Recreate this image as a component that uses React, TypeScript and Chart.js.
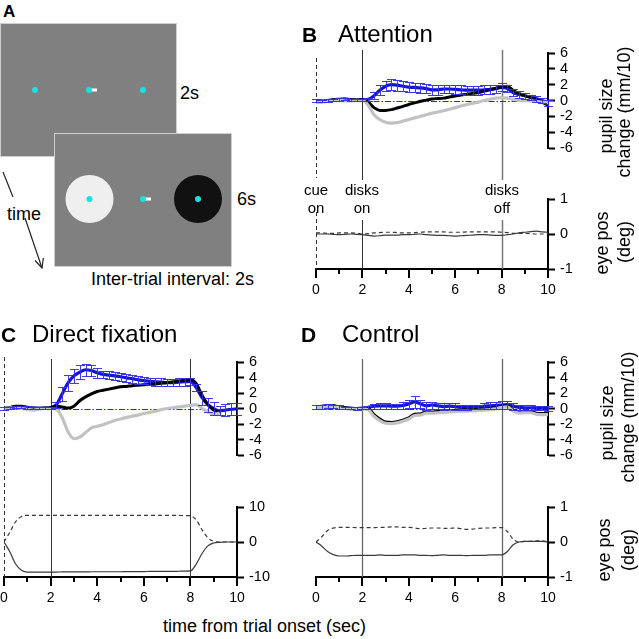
import React, { useEffect, useRef } from 'react';
import { Chart, registerables } from 'chart.js';

Chart.register(...registerables);

const FONT = "'Liberation Sans', Arial, Helvetica, sans-serif";

// ---------- data ----------
const TIME = [0, 0.25, 0.5, 0.75, 1, 1.25, 1.5, 1.75, 2, 2.25, 2.5, 2.75, 3, 3.25, 3.5, 3.75, 4, 4.25, 4.5, 4.75, 5, 5.25, 5.5, 5.75, 6, 6.25, 6.5, 6.75, 7, 7.25, 7.5, 7.75, 8, 8.25, 8.5, 8.75, 9, 9.25, 9.5, 9.75, 10];

const X_TICK_LABELS = [0, 2, 4, 6, 8, 10];
const PUPIL_RANGE = [-6, 6];
const PUPIL_STEP = 2;
const EYE_RANGE_SMALL = [-1, 1];
const EYE_RANGE_LARGE = [-10, 10];

// Panel B: Attention (pupil change, mm/10)
const B_BLUE = [0.0, -0.05, 0.0, 0.1, 0.15, 0.2, 0.1, 0.05, 0.1, 0.15, 0.6, 1.3, 1.8, 2.0, 1.95, 1.8, 1.7, 1.65, 1.6, 1.5, 1.35, 1.35, 1.45, 1.45, 1.4, 1.35, 1.3, 1.3, 1.3, 1.35, 1.4, 1.5, 1.65, 1.5, 1.0, 0.75, 0.6, 0.4, 0.2, 0.0, -0.3];
const B_BLUE_ERR = [0.15, 0.15, 0.15, 0.15, 0.15, 0.15, 0.15, 0.15, 0.15, 0.2, 0.45, 0.6, 0.65, 0.7, 0.7, 0.65, 0.6, 0.6, 0.6, 0.6, 0.6, 0.6, 0.55, 0.55, 0.55, 0.55, 0.55, 0.55, 0.55, 0.55, 0.55, 0.5, 0.5, 0.45, 0.4, 0.4, 0.4, 0.35, 0.35, 0.35, 0.35];
const B_BLACK = [-0.2, -0.15, -0.05, 0.05, 0.1, 0.1, 0.05, 0.05, 0.05, -0.2, -0.9, -1.25, -1.25, -1.15, -0.95, -0.75, -0.5, -0.3, -0.1, 0.05, 0.2, 0.25, 0.3, 0.45, 0.55, 0.7, 0.8, 0.9, 1.0, 1.2, 1.35, 1.55, 1.7, 1.8, 1.3, 0.9, 0.6, 0.4, 0.2, -0.2, -0.6];
const B_GRAY = [-0.25, -0.2, -0.1, 0.0, 0.0, -0.05, -0.05, 0.0, 0.0, -0.6, -1.8, -2.4, -2.75, -2.85, -2.8, -2.6, -2.4, -2.2, -2.0, -1.8, -1.6, -1.45, -1.3, -1.1, -0.9, -0.7, -0.5, -0.35, -0.2, 0.0, 0.15, 0.3, 0.35, 0.3, 0.15, 0.05, 0.0, -0.05, -0.1, -0.2, -0.3];
const B_EYE_SOLID = [0.0, 0.0, 0.0, -0.01, -0.02, -0.01, 0.0, -0.01, -0.02, -0.04, -0.06, -0.05, -0.03, -0.03, -0.03, -0.02, -0.02, -0.01, 0.0, -0.02, -0.03, -0.04, -0.04, -0.05, -0.06, -0.05, -0.04, -0.03, -0.02, -0.02, -0.03, -0.04, -0.04, -0.02, 0.0, 0.03, 0.05, 0.07, 0.08, 0.06, 0.05];
const B_EYE_DASH = [0.03, 0.03, 0.02, 0.02, 0.03, 0.03, 0.03, 0.02, 0.0, 0.01, 0.03, 0.04, 0.05, 0.05, 0.04, 0.03, 0.03, 0.04, 0.05, 0.06, 0.06, 0.06, 0.06, 0.05, 0.05, 0.05, 0.06, 0.06, 0.06, 0.06, 0.06, 0.06, 0.05, 0.04, 0.02, 0.02, 0.02, 0.01, 0.0, 0.0, 0.0];

// Panel C: Direct fixation
const C_BLUE = [0.0, 0.1, 0.2, 0.2, 0.15, 0.1, 0.05, 0.05, 0.1, 0.5, 1.9, 3.3, 4.2, 4.7, 5.0, 4.9, 4.6, 4.4, 4.3, 4.2, 4.1, 3.95, 3.85, 3.7, 3.6, 3.5, 3.45, 3.4, 3.35, 3.35, 3.4, 3.45, 3.5, 2.7, 1.4, 0.5, 0.0, -0.3, -0.2, -0.1, -0.05];
const C_BLUE_ERR = [0.15, 0.15, 0.15, 0.15, 0.15, 0.15, 0.15, 0.15, 0.15, 0.4, 0.9, 1.0, 0.9, 0.9, 0.8, 0.7, 0.6, 0.5, 0.5, 0.5, 0.5, 0.5, 0.5, 0.5, 0.5, 0.5, 0.5, 0.5, 0.5, 0.5, 0.5, 0.5, 0.5, 0.5, 0.9, 0.9, 0.8, 0.6, 0.8, 0.8, 0.8];
const C_BLACK = [0.0, 0.1, 0.3, 0.3, 0.1, 0.0, 0.0, 0.05, 0.1, 0.3, 0.2, 0.05, 0.3, 1.0, 1.5, 1.9, 2.2, 2.35, 2.5, 2.65, 2.8, 2.85, 2.95, 3.0, 3.05, 3.1, 3.15, 3.25, 3.35, 3.45, 3.55, 3.65, 3.7, 3.2, 1.7, 0.5, -0.2, -0.55, null, null, null];
const C_GRAY = [0.0, 0.05, 0.1, 0.0, -0.1, -0.2, -0.1, 0.0, 0.0, -0.1, -1.2, -3.0, -3.9, -3.7, -3.1, -2.5, -2.3, -2.1, -1.8, -1.55, -1.35, -1.15, -1.0, -0.85, -0.65, -0.5, -0.35, -0.15, 0.0, 0.1, 0.2, 0.3, 0.4, 0.5, 0.0, -0.45, -0.75, -0.6, null, null, null];
const C_EYE_DASH = [0.0, 2.8, 5.8, 7.3, 7.6, 7.6, 7.6, 7.6, 7.6, 7.6, 7.6, 7.6, 7.6, 7.6, 7.6, 7.6, 7.6, 7.6, 7.6, 7.6, 7.6, 7.6, 7.6, 7.6, 7.6, 7.6, 7.6, 7.6, 7.6, 7.6, 7.6, 7.55, 7.5, 6.3, 3.5, 1.2, 0.2, 0.0, 0.0, 0.0, 0.0];
const C_EYE_SOLID = [0.0, -2.8, -6.3, -8.1, -8.6, -8.6, -8.6, -8.6, -8.6, -8.6, -8.55, -8.55, -8.55, -8.55, -8.55, -8.5, -8.5, -8.5, -8.5, -8.5, -8.5, -8.45, -8.45, -8.45, -8.45, -8.4, -8.4, -8.4, -8.4, -8.4, -8.35, -8.3, -8.25, -6.3, -3.3, -1.1, -0.3, -0.1, 0.0, 0.0, 0.0];

// Panel D: Control
const D_BLUE = [0.2, 0.25, 0.3, 0.3, 0.2, 0.1, 0.05, 0.0, 0.05, 0.15, 0.3, 0.35, 0.35, 0.3, 0.3, 0.4, 0.6, 0.85, 0.6, 0.35, 0.45, 0.35, 0.25, 0.3, 0.25, 0.15, 0.15, 0.2, 0.2, 0.3, 0.35, 0.4, 0.45, 0.5, 0.3, 0.15, 0.1, 0.1, 0.05, 0.05, 0.0];
const D_BLUE_ERR = [0.3, 0.25, 0.25, 0.2, 0.2, 0.15, 0.15, 0.15, 0.15, 0.2, 0.3, 0.35, 0.35, 0.3, 0.3, 0.4, 0.5, 0.75, 0.5, 0.5, 0.45, 0.4, 0.4, 0.4, 0.4, 0.35, 0.3, 0.3, 0.3, 0.4, 0.45, 0.5, 0.55, 0.5, 0.45, 0.35, 0.35, 0.3, 0.3, 0.3, 0.3];
const D_BLACK = [0.2, 0.3, 0.4, 0.35, 0.2, 0.1, 0.0, 0.0, 0.0, 0.0, -0.8, -1.35, -1.75, -1.8, -1.7, -1.5, -1.2, -0.75, -0.7, -0.45, -0.45, -0.4, -0.4, -0.3, -0.25, -0.2, -0.2, -0.15, -0.1, -0.05, 0.0, 0.1, 0.3, 0.35, -0.2, -0.45, -0.4, -0.4, -0.6, -0.65, -0.65];
const D_GRAY = [0.1, 0.2, 0.3, 0.25, 0.1, 0.0, -0.1, -0.05, -0.05, -0.15, -1.0, -1.55, -1.9, -1.95, -1.85, -1.65, -1.35, -0.9, -0.85, -0.6, -0.6, -0.55, -0.5, -0.45, -0.4, -0.35, -0.35, -0.3, -0.25, -0.2, -0.15, -0.05, 0.15, 0.2, -0.35, -0.6, -0.55, -0.55, -0.75, -0.8, -0.8];
const D_EYE_DASH = [0.0, 0.15, 0.33, 0.4, 0.42, 0.42, 0.42, 0.41, 0.41, 0.41, 0.41, 0.42, 0.42, 0.43, 0.43, 0.42, 0.42, 0.4, 0.38, 0.39, 0.4, 0.4, 0.39, 0.39, 0.4, 0.38, 0.36, 0.37, 0.39, 0.4, 0.4, 0.41, 0.41, 0.3, 0.08, 0.0, 0.02, 0.02, 0.03, 0.03, 0.0];
const D_EYE_SOLID = [0.0, -0.12, -0.27, -0.36, -0.4, -0.4, -0.39, -0.38, -0.38, -0.38, -0.38, -0.37, -0.38, -0.38, -0.38, -0.37, -0.37, -0.37, -0.38, -0.38, -0.39, -0.38, -0.37, -0.38, -0.38, -0.38, -0.39, -0.38, -0.38, -0.38, -0.37, -0.37, -0.37, -0.27, -0.08, 0.0, 0.02, 0.02, 0.02, 0.02, 0.0];

// ---------- styles ----------
const BLUE = '#1414d6';
const ERR_BLUE = 'rgba(50,50,230,0.95)';
const BLACK = '#000000';
const GRAY = '#c2c2c2';
const EYE = '#3a3a3a';

const AXIS_W = 48;
const XAXIS_H = 32;
const PAD_L = 12;
const PAD_R = 4;

type VLine = { x: number; from: number; to: number; color: string; width: number; dash?: number[] };
type Series = { values: (number | null)[]; color: string; width: number; dash?: number[] };
type Spec = {
  area: { left: number; right: number; top: number; bottom: number };
  canvasTop: number;
  canvasBottom: number;
  yRange: number[];
  yStep: number;
  showX: boolean;
  series: Series[];
  errors?: { values: number[]; err: number[] };
  zeroLine?: boolean;
  vlines: VLine[];
};

function MiniChart({ spec }: { spec: Spec }) {
  const ref = useRef<HTMLCanvasElement>(null);
  const left = spec.area.left - PAD_L;
  const width = PAD_L + (spec.area.right - spec.area.left) + AXIS_W + PAD_R;
  const height = spec.canvasBottom - spec.canvasTop;

  useEffect(() => {
    const padTop = spec.area.top - spec.canvasTop;
    const padBottom = spec.canvasBottom - spec.area.bottom - (spec.showX ? XAXIS_H : 0);
    const overlay = {
      id: 'overlay',
      beforeDatasetsDraw(chart: any) {
        const ctx = chart.ctx;
        const xs = chart.scales.x;
        const ys = chart.scales.y;
        ctx.save();
        for (const v of spec.vlines) {
          const px = Math.round(xs.getPixelForValue(v.x)) + 0.5;
          ctx.strokeStyle = v.color;
          ctx.lineWidth = v.width;
          ctx.setLineDash(v.dash || []);
          ctx.beginPath();
          ctx.moveTo(px, v.from - spec.canvasTop);
          ctx.lineTo(px, v.to - spec.canvasTop);
          ctx.stroke();
        }
        if (spec.zeroLine) {
          const py = Math.round(ys.getPixelForValue(0)) + 0.5;
          ctx.strokeStyle = '#2626ee';
          ctx.lineWidth = 1.2;
          ctx.setLineDash([6, 2, 1.5, 2]);
          ctx.beginPath();
          ctx.moveTo(xs.getPixelForValue(0), py);
          ctx.lineTo(xs.getPixelForValue(10), py);
          ctx.stroke();
        }
        ctx.restore();
      },
      afterDatasetsDraw(chart: any) {
        if (!spec.errors) return;
        const ctx = chart.ctx;
        const xs = chart.scales.x;
        const ys = chart.scales.y;
        ctx.save();
        ctx.strokeStyle = ERR_BLUE;
        ctx.lineWidth = 1;
        spec.errors.values.forEach((v, i) => {
          const e = spec.errors!.err[i];
          const px = Math.round(xs.getPixelForValue(TIME[i])) + 0.5;
          const y1 = Math.round(ys.getPixelForValue(v + e)) + 0.5;
          const y2 = Math.round(ys.getPixelForValue(v - e)) + 0.5;
          ctx.beginPath();
          ctx.moveTo(px, y1);
          ctx.lineTo(px, y2);
          ctx.moveTo(px - 4.5, y1);
          ctx.lineTo(px + 4.5, y1);
          ctx.moveTo(px - 4.5, y2);
          ctx.lineTo(px + 4.5, y2);
          ctx.stroke();
        });
        ctx.restore();
      },
      afterDraw(chart: any) {
        if (!spec.showX) return;
        const ctx = chart.ctx;
        const xs = chart.scales.x;
        ctx.save();
        ctx.strokeStyle = '#000';
        ctx.lineWidth = 2;
        for (const t of xs.ticks) {
          const px = Math.round(xs.getPixelForValue(t.value));
          const len = X_TICK_LABELS.includes(t.value) ? 9 : 5;
          ctx.beginPath();
          ctx.moveTo(px, xs.top);
          ctx.lineTo(px, xs.top + len);
          ctx.stroke();
        }
        ctx.restore();
      },
    };

    const chart = new Chart(ref.current as HTMLCanvasElement, {
      type: 'line',
      data: {
        datasets: spec.series.map((s) => ({
          data: TIME.map((t, i) => ({ x: t, y: s.values[i] })),
          borderColor: s.color,
          borderWidth: s.width,
          borderDash: s.dash || [],
          pointRadius: 0,
          cubicInterpolationMode: 'monotone',
          fill: false,
          spanGaps: false,
        })) as any,
      },
      options: {
        responsive: false,
        animation: false,
        devicePixelRatio: 1,
        events: [],
        layout: { padding: { left: PAD_L, right: PAD_R, top: padTop, bottom: padBottom } },
        plugins: { legend: { display: false }, tooltip: { enabled: false } },
        scales: {
          x: {
            type: 'linear',
            min: 0,
            max: 10,
            display: spec.showX,
            position: 'bottom',
            afterFit: (s: any) => {
              s.height = XAXIS_H;
              s.paddingLeft = 0;
              s.paddingRight = 0;
            },
            border: { display: true, color: '#000', width: 2 },
            grid: { drawOnChartArea: false, drawTicks: false },
            ticks: {
              stepSize: 1,
              autoSkip: false,
              maxRotation: 0,
              padding: 14,
              color: '#000',
              font: { family: FONT, size: 14, lineHeight: 1 },
              callback: (v: any) => (X_TICK_LABELS.includes(Number(v)) ? String(v) : ''),
            },
          },
          y: {
            type: 'linear',
            position: 'right',
            min: spec.yRange[0],
            max: spec.yRange[1],
            afterFit: (s: any) => {
              s.width = AXIS_W;
              s.paddingTop = 0;
              s.paddingBottom = 0;
            },
            border: { display: true, color: '#000', width: 2 },
            grid: { drawOnChartArea: false, drawTicks: true, tickLength: 7, tickWidth: 2, tickColor: '#000' },
            ticks: {
              stepSize: spec.yStep,
              autoSkip: false,
              padding: 5,
              color: '#000',
              font: { family: FONT, size: 14.5, lineHeight: 1 },
            },
          },
        } as any,
      },
      plugins: [overlay],
    });
    return () => chart.destroy();
  }, []);

  return (
    <canvas
      ref={ref}
      width={width}
      height={height}
      style={{ position: 'absolute', left, top: spec.canvasTop, width, height }}
    />
  );
}

function pupilSeries(gray: (number | null)[], black: (number | null)[], blue: number[]): Series[] {
  return [
    { values: gray, color: GRAY, width: 3.2 },
    { values: black, color: BLACK, width: 3 },
    { values: blue, color: BLUE, width: 3.2 },
  ];
}
function eyeSeries(solid: number[], dash: number[]): Series[] {
  return [
    { values: solid, color: EYE, width: 1.2 },
    { values: dash, color: EYE, width: 1.2, dash: [4, 3] },
  ];
}

const DASH0 = [4, 3];

const SPECS: Spec[] = [
  // B top
  {
    area: { left: 316, right: 548, top: 53, bottom: 180 },
    canvasTop: 36,
    canvasBottom: 196,
    yRange: PUPIL_RANGE,
    yStep: PUPIL_STEP,
    showX: false,
    series: pupilSeries(B_GRAY, B_BLACK, B_BLUE),
    errors: { values: B_BLUE, err: B_BLUE_ERR },
    zeroLine: true,
    vlines: [
      { x: 0, from: 58, to: 178, color: '#333', width: 1, dash: DASH0 },
      { x: 2, from: 50, to: 180, color: '#333', width: 1 },
      { x: 8, from: 50, to: 180, color: '#777', width: 1.5 },
    ],
  },
  // B bottom
  {
    area: { left: 316, right: 548, top: 199, bottom: 269 },
    canvasTop: 184,
    canvasBottom: 269 + XAXIS_H + 5,
    yRange: EYE_RANGE_SMALL,
    yStep: 1,
    showX: true,
    series: eyeSeries(B_EYE_SOLID, B_EYE_DASH),
    vlines: [
      { x: 0, from: 212, to: 269, color: '#333', width: 1, dash: DASH0 },
      { x: 2, from: 220, to: 269, color: '#333', width: 1 },
      { x: 8, from: 220, to: 269, color: '#777', width: 1.5 },
    ],
  },
  // C top
  {
    area: { left: 4, right: 237, top: 362, bottom: 487 },
    canvasTop: 345,
    canvasBottom: 503,
    yRange: PUPIL_RANGE,
    yStep: PUPIL_STEP,
    showX: false,
    series: pupilSeries(C_GRAY, C_BLACK, C_BLUE),
    errors: { values: C_BLUE, err: C_BLUE_ERR },
    zeroLine: true,
    vlines: [
      { x: 0, from: 357, to: 497, color: '#333', width: 1, dash: DASH0 },
      { x: 2, from: 359, to: 497, color: '#333', width: 1 },
      { x: 8, from: 359, to: 497, color: '#333', width: 1 },
    ],
  },
  // C bottom
  {
    area: { left: 4, right: 237, top: 507, bottom: 577 },
    canvasTop: 491,
    canvasBottom: 577 + XAXIS_H + 5,
    yRange: EYE_RANGE_LARGE,
    yStep: 10,
    showX: true,
    series: eyeSeries(C_EYE_SOLID, C_EYE_DASH),
    vlines: [
      { x: 0, from: 497, to: 577, color: '#333', width: 1, dash: DASH0 },
      { x: 2, from: 497, to: 577, color: '#333', width: 1 },
      { x: 8, from: 497, to: 577, color: '#333', width: 1 },
    ],
  },
  // D top
  {
    area: { left: 316, right: 548, top: 362, bottom: 487 },
    canvasTop: 345,
    canvasBottom: 503,
    yRange: PUPIL_RANGE,
    yStep: PUPIL_STEP,
    showX: false,
    series: pupilSeries(D_GRAY, D_BLACK, D_BLUE),
    errors: { values: D_BLUE, err: D_BLUE_ERR },
    zeroLine: true,
    vlines: [
      { x: 2, from: 359, to: 497, color: '#666', width: 1.3 },
      { x: 8, from: 359, to: 497, color: '#666', width: 1.3 },
    ],
  },
  // D bottom
  {
    area: { left: 316, right: 548, top: 507, bottom: 577 },
    canvasTop: 491,
    canvasBottom: 577 + XAXIS_H + 5,
    yRange: EYE_RANGE_SMALL,
    yStep: 1,
    showX: true,
    series: eyeSeries(D_EYE_SOLID, D_EYE_DASH),
    vlines: [
      { x: 2, from: 497, to: 577, color: '#666', width: 1.3 },
      { x: 8, from: 497, to: 577, color: '#666', width: 1.3 },
    ],
  },
];

// ---------- text helpers ----------
function Txt({ x, base, size, bold, children }: { x: number; base: number; size: number; bold?: boolean; children: any }) {
  return (
    <div
      style={{
        position: 'absolute',
        left: x,
        top: base - 0.85 * size,
        fontSize: size,
        lineHeight: `${size}px`,
        fontWeight: bold ? 'bold' : 'normal',
        fontFamily: FONT,
        whiteSpace: 'nowrap',
        color: '#000',
      }}
    >
      {children}
    </div>
  );
}
function CTxt({ cx, cy, size, rotate, children }: { cx: number; cy: number; size: number; rotate?: boolean; children: any }) {
  return (
    <div
      style={{
        position: 'absolute',
        left: cx,
        top: cy,
        transform: `translate(-50%, -50%)${rotate ? ' rotate(-90deg)' : ''}`,
        fontSize: size,
        lineHeight: `${size}px`,
        fontFamily: FONT,
        whiteSpace: 'nowrap',
        color: '#000',
      }}
    >
      {children}
    </div>
  );
}

const CYAN = '#17e2e2';

function PanelA() {
  return (
    <svg width={260} height={290} style={{ position: 'absolute', left: 0, top: 0 }}>
      <rect x={0.5} y={23.5} width={176} height={133} fill="#808080" stroke="#cfcfcf" strokeWidth={1} />
      <rect x={90} y={88.5} width={7} height={3} fill="#ffffff" />
      <circle cx={35} cy={90} r={3} fill={CYAN} />
      <circle cx={89} cy={90} r={3} fill={CYAN} />
      <circle cx={143} cy={90} r={3} fill={CYAN} />
      <rect x={54.5} y={133.5} width={177} height={133} fill="#808080" stroke="#cfcfcf" strokeWidth={1} />
      <circle cx={89.5} cy={199} r={24} fill="#efefef" />
      <circle cx={198} cy={199} r={24} fill="#111111" />
      <rect x={144} y={197.5} width={7} height={3} fill="#ffffff" />
      <circle cx={89.5} cy={199} r={3} fill={CYAN} />
      <circle cx={143} cy={199} r={3} fill={CYAN} />
      <circle cx={198} cy={199} r={3} fill={CYAN} />
      <line x1={3} y1={172} x2={13} y2={197} stroke="#222" strokeWidth={1.2} />
      <line x1={25} y1={218} x2={42} y2={268} stroke="#222" strokeWidth={1.2} />
      <polyline points="35,260.5 42,268 43.3,258" fill="none" stroke="#222" strokeWidth={1.2} />
    </svg>
  );
}

export default function App() {
  return (
    <div
      style={{
        position: 'absolute',
        left: 0,
        top: 0,
        width: 639,
        height: 639,
        overflow: 'hidden',
        background: '#ffffff',
        fontFamily: FONT,
      }}
    >
      <PanelA />
      <Txt x={3} base={17} size={17} bold>A</Txt>
      <Txt x={180} base={99} size={18}>2s</Txt>
      <Txt x={237} base={205} size={18}>6s</Txt>
      <Txt x={7} base={220} size={18}>time</Txt>
      <Txt x={91} base={285} size={18}>Inter-trial interval: 2s</Txt>

      {SPECS.map((s, i) => (
        <MiniChart key={i} spec={s} />
      ))}

      {/* Titles */}
      <Txt x={302} base={42} size={21} bold>B</Txt>
      <Txt x={338} base={42} size={24}>Attention</Txt>
      <Txt x={1} base={342} size={21} bold>C</Txt>
      <Txt x={32} base={342} size={24}>Direct fixation</Txt>
      <Txt x={301} base={342} size={21} bold>D</Txt>
      <Txt x={342} base={342} size={24}>Control</Txt>

      {/* Event labels in B */}
      <CTxt cx={316} cy={188.5} size={15}>cue</CTxt>
      <CTxt cx={316} cy={207} size={15}>on</CTxt>
      <CTxt cx={362} cy={188.5} size={15}>disks</CTxt>
      <CTxt cx={362} cy={207} size={15}>on</CTxt>
      <CTxt cx={502} cy={188.5} size={15}>disks</CTxt>
      <CTxt cx={502} cy={207} size={15}>off</CTxt>

      {/* Axis titles */}
      <CTxt cx={606} cy={116} size={18} rotate>pupil size</CTxt>
      <CTxt cx={624} cy={112} size={18} rotate>change (mm/10)</CTxt>
      <CTxt cx={602} cy={243} size={18} rotate>eye pos</CTxt>
      <CTxt cx={623.5} cy={242} size={18} rotate>(deg)</CTxt>
      <CTxt cx={607} cy={423} size={18} rotate>pupil size</CTxt>
      <CTxt cx={628} cy={417} size={18} rotate>change (mm/10)</CTxt>
      <CTxt cx={604} cy={550} size={18} rotate>eye pos</CTxt>
      <CTxt cx={628} cy={550} size={18} rotate>(deg)</CTxt>

      <Txt x={163} base={632} size={18}>time from trial onset (sec)</Txt>
    </div>
  );
}
